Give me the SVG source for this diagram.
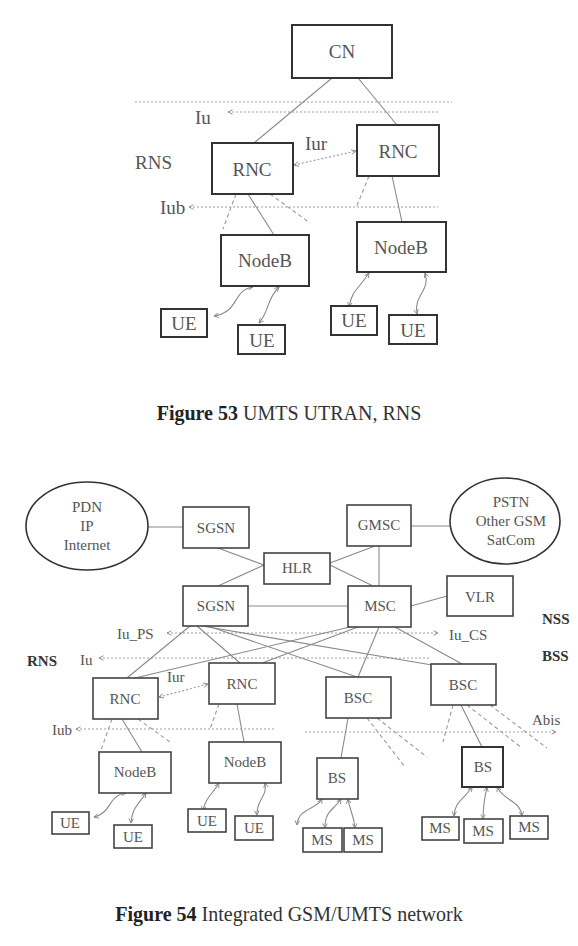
<svg xmlns="http://www.w3.org/2000/svg" width="578" height="946" viewBox="0 0 578 946">
<defs>
<marker id="ah" viewBox="0 0 8 8" refX="7" refY="4" markerWidth="6" markerHeight="6" orient="auto-start-reverse" markerUnits="userSpaceOnUse">
<path d="M1,1 L7,4 L1,7" fill="none" stroke="#888" stroke-width="1.2"/>
</marker>
</defs>
<style>
.bx{fill:#fff;stroke:#333;stroke-width:2}
.bx2{fill:#fff;stroke:#444;stroke-width:1.6}
.ln{stroke:#8a8a8a;stroke-width:1.1;fill:none}
.dot{stroke:#a0a0a0;stroke-width:1.2;stroke-dasharray:2 2;fill:none}
.dsh{stroke:#9a9a9a;stroke-width:1.1;stroke-dasharray:4 3;fill:none}
.cv{stroke:#8a8a8a;stroke-width:1.1;fill:none}
.t1{font-family:"Liberation Serif",serif;font-size:19px;fill:#555;text-anchor:middle}
.l1{font-family:"Liberation Serif",serif;font-size:19px;fill:#555}
.t2{font-family:"Liberation Serif",serif;font-size:15px;fill:#555;text-anchor:middle}
.l2{font-family:"Liberation Serif",serif;font-size:15px;fill:#555}
.b2{font-family:"Liberation Serif",serif;font-size:15px;font-weight:bold;fill:#333}
.cap{font-family:"Liberation Serif",serif;font-size:20px;fill:#333;text-anchor:middle}
</style>
<rect width="578" height="946" fill="#fff"/>

<!-- Figure 53 connectors -->
<g id="connectors53">
<line class="dot" x1="135" y1="102" x2="452" y2="102"/>
<line class="dot" x1="228" y1="112" x2="438" y2="112" marker-start="url(#ah)"/>
<line class="ln" x1="332" y1="78" x2="254" y2="143"/>
<line class="ln" x1="358" y1="78" x2="397" y2="125"/>
<line class="dot" x1="294" y1="165" x2="356" y2="151" marker-start="url(#ah)" marker-end="url(#ah)"/>
<line class="dot" x1="189" y1="207" x2="438" y2="207" marker-start="url(#ah)"/>
<line class="dsh" x1="236" y1="194" x2="223" y2="229"/>
<line class="ln" x1="248" y1="194" x2="274" y2="235"/>
<line class="dsh" x1="270" y1="194" x2="310" y2="223"/>
<line class="dsh" x1="369" y1="176" x2="356" y2="208"/>
<line class="ln" x1="392" y1="176" x2="402" y2="222"/>
<path class="cv" d="M253,287 C232,290 240,312 214,316" marker-start="url(#ah)" marker-end="url(#ah)"/>
<path class="cv" d="M279,287 C266,300 270,310 259,323" marker-start="url(#ah)" marker-end="url(#ah)"/>
<path class="cv" d="M369,273 C358,290 352,290 349,307" marker-start="url(#ah)" marker-end="url(#ah)"/>
<path class="cv" d="M425,273 C431,290 413,296 417,314" marker-start="url(#ah)" marker-end="url(#ah)"/>
</g>
<g id="labels53">
<text class="l1" x="195" y="124">Iu</text>
<text class="l1" x="135" y="169">RNS</text>
<text class="l1" x="305" y="150">Iur</text>
<text class="l1" x="160" y="214">Iub</text>
</g>
<g id="CN"><rect class="bx" x="292" y="25" width="100" height="53"/><text class="t1" x="342" y="58">CN</text></g>
<g id="RNC1a"><rect class="bx" x="212" y="143" width="81" height="51"/><text class="t1" x="252" y="176">RNC</text></g>
<g id="RNC2a"><rect class="bx" x="357" y="125" width="82" height="51"/><text class="t1" x="398" y="158">RNC</text></g>
<g id="NodeB1a"><rect class="bx" x="221" y="235" width="88" height="51"/><text class="t1" x="265" y="267">NodeB</text></g>
<g id="NodeB2a"><rect class="bx" x="357" y="222" width="89" height="50"/><text class="t1" x="401" y="254">NodeB</text></g>
<g id="UE1a"><rect class="bx" x="161" y="309" width="46" height="28"/><text class="t1" x="184" y="330">UE</text></g>
<g id="UE2a"><rect class="bx" x="238" y="325" width="47" height="29"/><text class="t1" x="262" y="347">UE</text></g>
<g id="UE3a"><rect class="bx" x="331" y="306" width="46" height="29"/><text class="t1" x="354" y="327">UE</text></g>
<g id="UE4a"><rect class="bx" x="389" y="315" width="48" height="29"/><text class="t1" x="413" y="337">UE</text></g>

<text class="cap" x="289" y="420"><tspan font-weight="bold" fill="#222">Figure 53</tspan> UMTS UTRAN, RNS</text>

<!-- Figure 54 connectors -->
<g id="connectors54">
<line class="ln" x1="148" y1="527" x2="183" y2="527"/>
<line class="ln" x1="218" y1="548" x2="264" y2="565"/>
<line class="ln" x1="218" y1="586" x2="264" y2="565"/>
<line class="ln" x1="248" y1="606" x2="348" y2="606"/>
<line class="ln" x1="411" y1="526" x2="450" y2="526"/>
<line class="ln" x1="379" y1="546" x2="379" y2="586"/>
<line class="ln" x1="330" y1="563" x2="375" y2="546"/>
<line class="ln" x1="330" y1="565" x2="373" y2="586"/>
<line class="ln" x1="411" y1="606" x2="447" y2="596"/>
<line class="dot" x1="167" y1="633" x2="438" y2="633" marker-start="url(#ah)" marker-end="url(#ah)"/>
<line class="dot" x1="99" y1="658" x2="430" y2="658" marker-start="url(#ah)"/>
<line class="ln" x1="190" y1="626" x2="127" y2="678"/>
<line class="ln" x1="197" y1="626" x2="240" y2="663"/>
<line class="ln" x1="208" y1="626" x2="357" y2="677"/>
<line class="ln" x1="202" y1="626" x2="432" y2="665"/>
<line class="ln" x1="350" y1="627" x2="135" y2="678"/>
<line class="ln" x1="358" y1="627" x2="262" y2="663"/>
<line class="ln" x1="379" y1="627" x2="358" y2="677"/>
<line class="ln" x1="395" y1="627" x2="462" y2="664"/>
<line class="dot" x1="159" y1="697" x2="208" y2="684" marker-start="url(#ah)" marker-end="url(#ah)"/>
<line class="dot" x1="76" y1="729" x2="275" y2="729" marker-start="url(#ah)"/>
<line class="dsh" x1="112" y1="719" x2="101" y2="750"/>
<line class="ln" x1="122" y1="719" x2="142" y2="752"/>
<line class="dsh" x1="138" y1="719" x2="170" y2="742"/>
<line class="dsh" x1="219" y1="704" x2="210" y2="729"/>
<line class="ln" x1="237" y1="704" x2="244" y2="742"/>
<line class="dot" x1="305" y1="732" x2="556" y2="732" marker-end="url(#ah)"/>
<line class="ln" x1="348" y1="718" x2="341" y2="758"/>
<line class="dsh" x1="367" y1="718" x2="405" y2="767"/>
<line class="dsh" x1="377" y1="718" x2="427" y2="757"/>
<line class="dsh" x1="453" y1="705" x2="443" y2="742"/>
<line class="ln" x1="461" y1="705" x2="482" y2="747"/>
<line class="dsh" x1="467" y1="705" x2="522" y2="748"/>
<line class="dsh" x1="490" y1="705" x2="547" y2="748"/>
<path class="cv" d="M126,793 C108,795 112,813 94,817" marker-start="url(#ah)" marker-end="url(#ah)"/>
<path class="cv" d="M146,793 C138,805 132,808 131,823" marker-start="url(#ah)" marker-end="url(#ah)"/>
<path class="cv" d="M219,783 C212,795 205,798 203,811" marker-start="url(#ah)" marker-end="url(#ah)"/>
<path class="cv" d="M265,783 C268,796 256,800 257,815" marker-start="url(#ah)" marker-end="url(#ah)"/>
<path class="cv" d="M322,799 C316,810 298,808 297,825" marker-start="url(#ah)" marker-end="url(#ah)"/>
<path class="cv" d="M341,799 C334,810 325,810 325,828" marker-start="url(#ah)" marker-end="url(#ah)"/>
<path class="cv" d="M348,799 C350,812 354,815 355,828" marker-start="url(#ah)" marker-end="url(#ah)"/>
<path class="cv" d="M472,787 C464,800 455,800 454,816" marker-start="url(#ah)" marker-end="url(#ah)"/>
<path class="cv" d="M487,787 C484,800 483,806 483,819" marker-start="url(#ah)" marker-end="url(#ah)"/>
<path class="cv" d="M497,787 C505,802 520,800 522,816" marker-start="url(#ah)" marker-end="url(#ah)"/>
</g>
<g id="labels54">
<text class="l2" x="117" y="639">Iu_PS</text>
<text class="l2" x="449" y="640">Iu_CS</text>
<text class="b2" x="27" y="666">RNS</text>
<text class="l2" x="80" y="665">Iu</text>
<text class="b2" x="542" y="624">NSS</text>
<text class="b2" x="542" y="661">BSS</text>
<text class="l2" x="167" y="682">Iur</text>
<text class="l2" x="52" y="735">Iub</text>
<text class="l2" x="532" y="725">Abis</text>
</g>
<g id="PDN"><ellipse cx="87" cy="526" rx="61" ry="44" fill="#fff" stroke="#333" stroke-width="1.6"/>
<text class="t2" x="87" y="512">PDN</text><text class="t2" x="87" y="531">IP</text><text class="t2" x="87" y="550">Internet</text></g>
<g id="PSTN"><ellipse cx="505" cy="521" rx="55" ry="43" fill="#fff" stroke="#333" stroke-width="1.6"/>
<text class="t2" x="511" y="507">PSTN</text><text class="t2" x="511" y="526">Other GSM</text><text class="t2" x="511" y="545">SatCom</text></g>
<g id="SGSN1"><rect class="bx2" x="183" y="507" width="66" height="41"/><text class="t2" x="216" y="533">SGSN</text></g>
<g id="HLR"><rect class="bx2" x="264" y="553" width="66" height="31"/><text class="t2" x="297" y="573">HLR</text></g>
<g id="SGSN2"><rect class="bx2" x="183" y="586" width="65" height="40"/><text class="t2" x="216" y="611">SGSN</text></g>
<g id="GMSC"><rect class="bx2" x="347" y="505" width="64" height="41"/><text class="t2" x="379" y="530">GMSC</text></g>
<g id="MSC"><rect class="bx2" x="348" y="586" width="63" height="41"/><text class="t2" x="380" y="611">MSC</text></g>
<g id="VLR"><rect class="bx2" x="447" y="576" width="66" height="40"/><text class="t2" x="480" y="602">VLR</text></g>
<g id="RNC1b"><rect class="bx2" x="93" y="678" width="65" height="41"/><text class="t2" x="125" y="704">RNC</text></g>
<g id="RNC2b"><rect class="bx2" x="209" y="663" width="66" height="41"/><text class="t2" x="242" y="689">RNC</text></g>
<g id="BSC1"><rect class="bx2" x="326" y="677" width="65" height="41"/><text class="t2" x="358" y="703">BSC</text></g>
<g id="BSC2"><rect class="bx2" x="431" y="664" width="65" height="41"/><text class="t2" x="463" y="690">BSC</text></g>
<g id="NodeB1b"><rect class="bx2" x="99" y="752" width="72" height="41"/><text class="t2" x="135" y="777">NodeB</text></g>
<g id="NodeB2b"><rect class="bx2" x="209" y="742" width="72" height="41"/><text class="t2" x="245" y="767">NodeB</text></g>
<g id="BS1"><rect class="bx2" x="317" y="758" width="41" height="41"/><text class="t2" x="337" y="783">BS</text></g>
<g id="BS2"><rect class="bx" x="462" y="747" width="41" height="40"/><text class="t2" x="483" y="772">BS</text></g>
<g id="UE1b"><rect class="bx2" x="52" y="812" width="37" height="22"/><text class="t2" x="70" y="828">UE</text></g>
<g id="UE2b"><rect class="bx2" x="114" y="825" width="38" height="23"/><text class="t2" x="133" y="842">UE</text></g>
<g id="UE3b"><rect class="bx2" x="188" y="809" width="38" height="23"/><text class="t2" x="207" y="826">UE</text></g>
<g id="UE4b"><rect class="bx2" x="235" y="816" width="38" height="24"/><text class="t2" x="254" y="833">UE</text></g>
<g id="MS1"><rect class="bx2" x="303" y="828" width="39" height="24"/><text class="t2" x="322" y="845">MS</text></g>
<g id="MS2"><rect class="bx2" x="344" y="828" width="38" height="24"/><text class="t2" x="363" y="845">MS</text></g>
<g id="MS3"><rect class="bx2" x="422" y="817" width="37" height="23"/><text class="t2" x="440" y="833">MS</text></g>
<g id="MS4"><rect class="bx2" x="464" y="819" width="39" height="24"/><text class="t2" x="483" y="836">MS</text></g>
<g id="MS5"><rect class="bx2" x="510" y="816" width="38" height="23"/><text class="t2" x="529" y="832">MS</text></g>

<text class="cap" x="289" y="921"><tspan font-weight="bold" fill="#222">Figure 54</tspan> Integrated GSM/UMTS network</text>
</svg>
